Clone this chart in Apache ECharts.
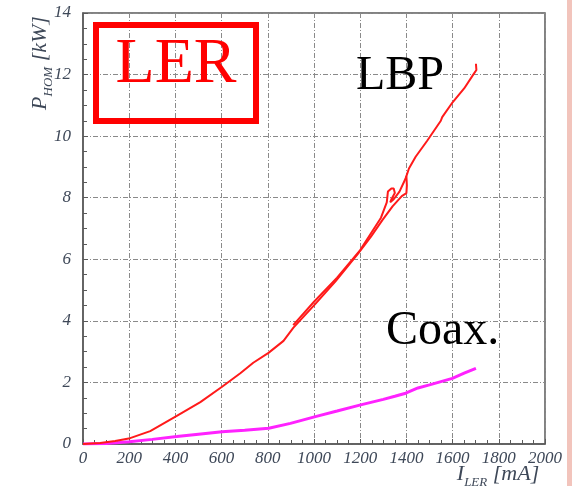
<!DOCTYPE html>
<html>
<head>
<meta charset="utf-8">
<script src="https://cdn.jsdelivr.net/npm/echarts@6/dist/echarts.min.js"></script>
<style>
  html, body { margin: 0; padding: 0; background: #fff; }
  #chart { width: 572px; height: 486px; }
</style>
</head>
<body>
<div id="chart"></div>
<script>
// values: [I_LER mA, P_HOM kW]
const lbpMain = [
  [0, 0], [74, 0.03], [139, 0.1], [204, 0.19], [291, 0.42], [406, 0.91],
  [508, 1.36], [602, 1.86], [681, 2.3], [737, 2.64], [803, 2.96], [868, 3.35],
  [911, 3.78], [1006, 4.55], [1093, 5.28], [1189, 6.17], [1245, 6.72], [1296, 7.27],
  [1340, 7.72], [1380, 8.05], [1400, 8.15], [1402, 8.4], [1400, 8.7], [1411, 8.95],
  [1440, 9.33], [1490, 9.85], [1549, 10.5], [1555, 10.62], [1600, 11.1],
  [1650, 11.55], [1693, 12.04], [1703, 12.15], [1701, 12.35]
];
const lbpReturn = [
  [910, 3.86], [1000, 4.62], [1100, 5.4], [1200, 6.3], [1290, 7.35], [1315, 7.85],
  [1320, 8.2], [1335, 8.3], [1345, 8.3], [1350, 8.15], [1335, 7.95], [1330, 7.85],
  [1345, 7.95], [1370, 8.2], [1395, 8.6], [1400, 8.7]
];
const coax = [
  [0, 0], [100, 0.02], [200, 0.07], [300, 0.15], [406, 0.24], [500, 0.32],
  [602, 0.4], [700, 0.45], [804, 0.51], [898, 0.67], [1006, 0.89], [1100, 1.07],
  [1202, 1.27], [1300, 1.45], [1350, 1.55], [1397, 1.65], [1450, 1.82],
  [1500, 1.92], [1599, 2.13], [1650, 2.3], [1701, 2.46]
];
const xTicks = [0, 200, 400, 600, 800, 1000, 1200, 1400, 1600, 1800, 2000];
const yTicks = [0, 2, 4, 6, 8, 10, 12, 14];

const serif = '"Liberation Serif", "DejaVu Serif", serif';
const labelColor = '#3e4858';
const gridLine = { color: '#8a8a8a', width: 1, type: [5, 2, 1, 2] };

const chart = echarts.init(document.getElementById('chart'));

const option = {
  animation: false,
  grid: {
    left: 83, right: 27, top: 13, bottom: 42,
    show: true, borderColor: '#5a5a5a', borderWidth: 1.5
  },
  xAxis: {
    type: 'value',
    min: xTicks[0],
    max: xTicks[xTicks.length - 1],
    interval: 200,
    axisLine: { show: true, lineStyle: { color: '#5a5a5a', width: 1.5 } },
    axisTick: { show: true, inside: true, length: 5, lineStyle: { color: '#5a5a5a' } },
    minorTick: { show: true, splitNumber: 4, length: 4, lineStyle: { color: '#5a5a5a' } },
    splitLine: { show: true, lineStyle: gridLine },
    axisLabel: {
      margin: 6, fontFamily: serif, fontStyle: 'italic', fontSize: 17, color: labelColor,
      formatter: (v) => String(v)
    }
  },
  yAxis: {
    type: 'value',
    min: yTicks[0],
    max: yTicks[yTicks.length - 1],
    interval: 2,
    axisLine: { show: true, lineStyle: { color: '#5a5a5a', width: 1.5 } },
    axisTick: { show: true, inside: true, length: 5, lineStyle: { color: '#5a5a5a' } },
    minorTick: { show: true, splitNumber: 4, length: 4, lineStyle: { color: '#5a5a5a' } },
    splitLine: { show: true, lineStyle: gridLine },
    axisLabel: {
      margin: 12, fontFamily: serif, fontStyle: 'italic', fontSize: 17, color: labelColor
    }
  },
  series: [
    {
      name: 'LBP', type: 'line', data: lbpMain, showSymbol: false,
      lineStyle: { color: '#ff1a1a', width: 2 }, z: 3
    },
    {
      name: 'LBP return', type: 'line', data: lbpReturn, showSymbol: false,
      lineStyle: { color: '#ff1a1a', width: 2 }, z: 3
    },
    {
      name: 'Coax.', type: 'line', data: coax, showSymbol: false,
      lineStyle: { color: '#ff22ff', width: 3 }, z: 2
    }
  ],
  graphic: [
    // slide edge on the right
    { type: 'rect', shape: { x: 567, y: 0, width: 5, height: 486 }, style: { fill: '#f2c4bc' } },
    // LER box
    {
      type: 'rect', shape: { x: 96, y: 25, width: 160, height: 96 },
      style: { fill: 'none', stroke: '#ff0000', lineWidth: 6 }, z: 10
    },
    {
      type: 'text', x: 176, y: 97, z: 10,
      style: { text: 'LER', fill: '#ff0000', font: '64px ' + serif, textAlign: 'center', textVerticalAlign: 'bottom' }
    },
    {
      type: 'text', x: 356, y: 100, z: 10,
      style: { text: 'LBP', fill: '#000', font: '48px ' + serif, textAlign: 'left', textVerticalAlign: 'bottom' }
    },
    {
      type: 'text', x: 386, y: 355, z: 10,
      style: { text: 'Coax.', fill: '#000', font: '48px ' + serif, textAlign: 'left', textVerticalAlign: 'bottom' }
    },
    // axis names
    {
      type: 'text', x: 40, y: 63, rotation: Math.PI / 2, z: 10,
      style: {
        text: '{a|P}{b|HOM}{a| [kW]}',
        textAlign: 'center', textVerticalAlign: 'middle',
        rich: {
          a: { fontFamily: serif, fontStyle: 'italic', fontSize: 22, fill: labelColor, verticalAlign: 'bottom' },
          b: { fontFamily: serif, fontStyle: 'italic', fontSize: 13, fill: labelColor, verticalAlign: 'bottom', padding: [0, 0, -4, 0] }
        }
      }
    },
    {
      type: 'text', x: 498, y: 474, z: 10,
      style: {
        text: '{a|I}{b|LER}{a| [mA]}',
        textAlign: 'center', textVerticalAlign: 'middle',
        rich: {
          a: { fontFamily: serif, fontStyle: 'italic', fontSize: 22, fill: labelColor, verticalAlign: 'bottom' },
          b: { fontFamily: serif, fontStyle: 'italic', fontSize: 13, fill: labelColor, verticalAlign: 'bottom', padding: [0, 0, -4, 0] }
        }
      }
    }
  ]
};

chart.setOption(option);
</script>
</body>
</html>
